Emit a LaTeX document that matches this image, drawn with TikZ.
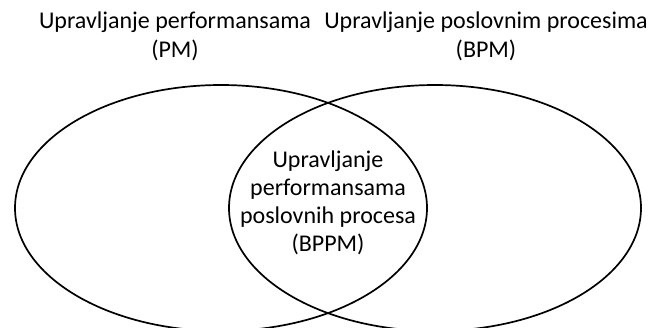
\documentclass[tikz,border=0pt]{standalone}
\usepackage{fontspec}
\setmainfont{Carlito}
\usetikzlibrary{shapes.geometric}
\begin{document}
\begin{tikzpicture}[x=1pt,y=-1pt,
  setshape/.style={ellipse,draw,line width=1.7pt,inner sep=0pt,
    minimum width=412pt,minimum height=246pt},
  setlabel/.style={align=center,inner sep=0pt,
    font=\fontsize{24}{29}\selectfont},
  corelabel/.style={align=center,inner sep=0pt,
    font=\fontsize{24}{28}\selectfont}]
  \useasboundingbox (0,0) rectangle (656,327);
  \begin{scope}
    \clip (0,0) rectangle (656,327);
    \node[setshape] (pmset) at (221,208) {};
    \node[setshape] (bpmset) at (435,208) {};
  \end{scope}
  \node[setlabel] (pmlabel) at (175,36) {Upravljanje performansama\\(PM)};
  \node[setlabel] (bpmlabel) at (486,36) {Upravljanje poslovnim procesima\\(BPM)};
  \node[corelabel] (bppmlabel) at (328,203)
    {Upravljanje\\performansama\\poslovnih procesa\\(BPPM)};
\end{tikzpicture}
\end{document}
